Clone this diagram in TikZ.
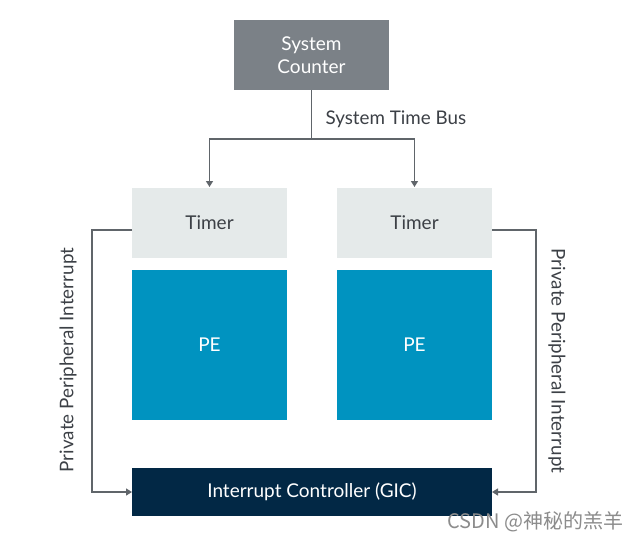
\documentclass[tikz,border=0pt]{standalone}
\usepackage{fontspec}
\setmainfont{Lato}
\newfontfamily\cjk{Noto Sans CJK SC}
\usetikzlibrary{arrows.meta}
\definecolor{cntgray}{HTML}{7B8187}
\definecolor{timergray}{HTML}{E5EAEA}
\definecolor{peblue}{HTML}{0093C0}
\definecolor{gicnavy}{HTML}{022845}
\definecolor{linegray}{HTML}{60656A}
\definecolor{txtdark}{HTML}{3C4046}
\tikzset{
  box/.style={draw=none, inner sep=0pt, outer sep=0pt, align=center, font=\fontsize{19}{23}\selectfont},
  conn/.style={draw=linegray, line width=1.3pt, -{Triangle[width=7pt,length=6pt]}},
  lbl/.style={text=txtdark, font=\fontsize{18.8}{22}\selectfont},
}
\begin{document}
\begin{tikzpicture}[x=1pt,y=-1pt]
\useasboundingbox (0,0) rectangle (639,541);
\fill[white] (0,0) rectangle (639,541);
% boxes
\node[box, fill=cntgray, text=white, minimum width=155pt, minimum height=70pt] (sc) at (311.5,55) {System\\Counter};
\node[box, fill=timergray, text=txtdark, minimum width=155pt, minimum height=70pt] (t1) at (209.5,223) {Timer};
\node[box, fill=timergray, text=txtdark, minimum width=155pt, minimum height=70pt] (t2) at (414.5,223) {Timer};
\node[box, fill=peblue, text=white, minimum width=155pt, minimum height=150pt] (pe1) at (209.5,345) {PE};
\node[box, fill=peblue, text=white, minimum width=155pt, minimum height=150pt] (pe2) at (414.5,345) {PE};
\node[box, fill=gicnavy, text=white, minimum width=360pt, minimum height=48pt] (gic) at (312,492) {Interrupt Controller (GIC)};
% system time bus
\coordinate (bus) at (311.5,139);
\draw[draw=linegray, line width=1.3pt] (sc.south) -- (bus);
\draw[conn] (bus) -| ([yshift=1pt]t1.north);
\draw[conn] (bus) -| ([yshift=1pt]t2.north);
\node[lbl, anchor=west] (stb) at (322,119) {System Time Bus};
% private interrupts
\coordinate (lc) at (92,230);
\coordinate (rc) at (536,230);
\draw[conn] ([yshift=-7pt]t1.west) -- (lc) |- (gic.west);
\draw[conn] ([yshift=-7pt]t2.east) -- (rc) |- (gic.east);
\node[lbl, rotate=90] (lp) at (68,360) {Private Peripheral Interrupt};
\node[lbl, rotate=-90] (rp) at (557,361) {Private Peripheral Interrupt};
% watermark
\node[anchor=east, text=black!45, font=\cjk\fontsize{20}{23}\selectfont] (wm) at (627,522) {CSDN @神秘的羔羊};
\end{tikzpicture}
\end{document}
